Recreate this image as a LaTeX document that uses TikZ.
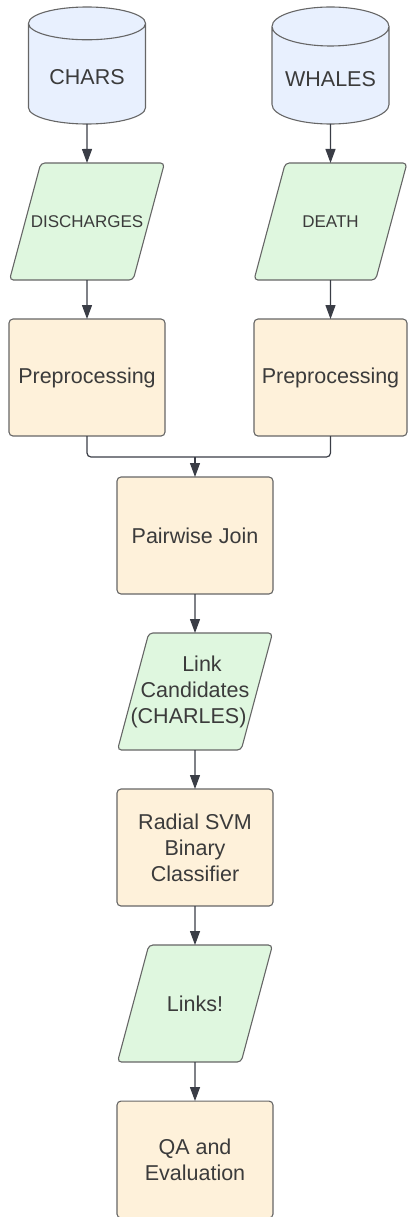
\documentclass[tikz,border=0pt]{standalone}
\usepackage{fontspec}
\setmainfont{Liberation Sans}
\usetikzlibrary{arrows.meta,positioning,shapes.geometric}

\definecolor{dbblue}{HTML}{E8F0FE}
\definecolor{iogreen}{HTML}{DFF7DF}
\definecolor{proccream}{HTML}{FEF1DA}
\definecolor{rim}{HTML}{666666}
\definecolor{ink}{HTML}{3A3D46}
\definecolor{txt}{HTML}{3B3B3B}

\begin{document}
\begin{tikzpicture}[x=1pt,y=1pt,->,>={Triangle[length=14pt,width=10pt]},node distance=39pt,
  base node/.style={draw=rim,line width=1.1pt,text=txt,outer sep=0pt,align=center,
    font=\fontsize{21.5}{26}\selectfont},
  db node/.style={base node,cylinder,shape border rotate=90,aspect=0.4,fill=dbblue,
    minimum width=117pt,minimum height=117pt,anchor=south},
  io node/.style={base node,trapezium,trapezium left angle=75,trapezium right angle=105,
    trapezium stretches body,rounded corners=4pt,fill=iogreen,inner xsep=-12pt,
    inner ysep=0pt,minimum width=155pt,minimum height=117pt},
  proc node/.style={base node,rectangle,rounded corners=4pt,fill=proccream,
    minimum width=156pt,minimum height=117pt}]

  \useasboundingbox (0,0) rectangle (408,-1217);

  \node[db node] (chars) at (87,-124) {CHARS};
  \node[db node] (whales) at (330.5,-124) {WHALES};
  \node[io node,font=\fontsize{17}{20}\selectfont,text height=64.7pt,text depth=52.3pt]
    (dis) [below=of chars] {DISCHARGES};
  \node[io node,font=\fontsize{17}{20}\selectfont,text height=64.7pt,text depth=52.3pt,
    minimum width=153pt] (death) [below=of whales] {DEATH};
  \node[proc node] (pre1) [below=of dis] {Preprocessing};
  \node[proc node,minimum width=153pt] (pre2) [below=of death] {Preprocessing};
  \node[proc node] (join) at (195,-535.5) {Pairwise Join};
  \node[io node,inner ysep=22.4pt,inner xsep=-19pt] (cand) [below=of join]
    {\hspace*{14pt}Link\\Candidates\\(CHARLES)\hspace*{13pt}};
  \node[proc node] (svm) [below=of cand] {Radial SVM\\Binary\\Classifier};
  \node[io node,text height=66.4pt,text depth=50.6pt] (links) [below=of svm] {Links!};
  \node[proc node] (qa) [below=of links] {QA and\\Evaluation};
  \coordinate[above=20pt of join] (merge);

  \path[every edge/.style={draw=ink,line width=1.2pt}]
    (chars) edge (dis)
    (dis) edge (pre1)
    (whales) edge (death)
    (death) edge (pre2)
    (merge) edge (join)
    (join) edge (cand)
    (cand) edge (svm)
    (svm) edge (links)
    (links) edge (qa);
  \draw[-,ink,line width=1.2pt,rounded corners=4pt] (pre1.south) |- (merge) -| (pre2.south);

\end{tikzpicture}
\end{document}
